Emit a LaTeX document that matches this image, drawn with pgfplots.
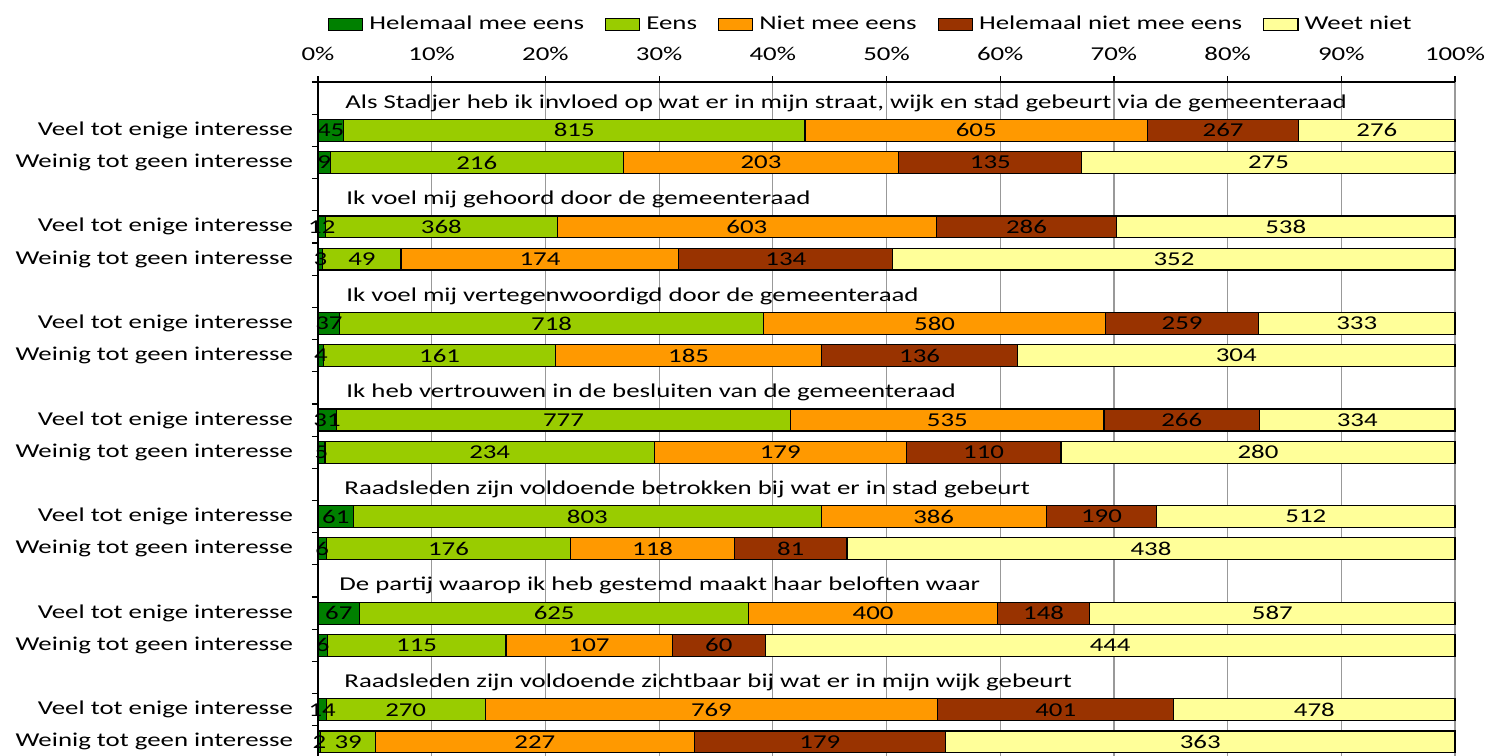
\documentclass[border=0pt]{standalone}
\usepackage{pgfplots}
\pgfplotsset{compat=1.18}
\usepackage{pgfplotstable}
\usepackage{fontspec}
\setmainfont[FakeStretch=1.37]{Carlito}
\definecolor{cHM}{RGB}{0,128,0}
\definecolor{cE}{RGB}{153,204,0}
\definecolor{cN}{RGB}{255,153,0}
\definecolor{cHN}{RGB}{153,51,0}
\definecolor{cW}{RGB}{255,255,153}

\pgfplotstableread{
y h e n hn w
1 45 815 605 267 276
2 9 216 203 135 275
4 12 368 603 286 538
5 3 49 174 134 352
7 37 718 580 259 333
8 4 161 185 136 304
10 31 777 535 266 334
11 5 234 179 110 280
13 61 803 386 190 512
14 6 176 118 81 438
16 67 625 400 148 587
17 6 115 107 60 444
19 14 270 769 401 478
20 2 39 227 179 363
}\data

\def\T{(\thisrow{h}+\thisrow{e}+\thisrow{n}+\thisrow{hn}+\thisrow{w})}

\pgfplotsset{
  segbar/.style={xbar, bar width=0.68, bar shift=0pt, draw=black, line width=0.6pt, fill=#1, area legend},
  seglab/.style={forget plot, draw=none, mark=none, nodes near coords={\pgfplotspointmeta},
     point meta=explicit symbolic, nodes near coords align=center,
     every node near coord/.append style={anchor=center, text=black, inner sep=0pt}},
}

\begin{document}
\fontsize{9.8pt}{12pt}\selectfont
\begin{tikzpicture}
\begin{axis}[
  at={(0,0)}, anchor=north west,
  scale only axis, width=568.5pt, height=338pt,
  xmin=0, xmax=100, ymin=-0.5, ymax=20.5, y dir=reverse,
  axis x line*=top, axis y line*=left,
  tick align=outside, major tick length=3pt,
  xtick={0,10,...,100},
  xticklabels={0\%,10\%,20\%,30\%,40\%,50\%,60\%,70\%,80\%,90\%,100\%},
  xticklabel style={yshift=4pt},
  xmajorgrids, grid style={gray!80, line width=0.6pt},
  ytick={-0.5,0.5,...,20.5},
  yticklabels={,Veel tot enige interesse,Weinig tot geen interesse,,Veel tot enige interesse,Weinig tot geen interesse,,Veel tot enige interesse,Weinig tot geen interesse,,Veel tot enige interesse,Weinig tot geen interesse,,Veel tot enige interesse,Weinig tot geen interesse,,Veel tot enige interesse,Weinig tot geen interesse,,Veel tot enige interesse,Weinig tot geen interesse,},
  yticklabel style={yshift=-8.05pt, xshift=-6pt},
  axis line style={black, line width=0.6pt},
  tick style={black, line width=0.6pt},
  clip=false,
  legend columns=-1,
  reverse legend,
  legend image code/.code={\draw[#1, line width=0.6pt] (0pt,-3.5pt) rectangle (7pt,3.5pt);},
  legend style={draw=none, fill=none, at={(0.488,1.085)}, anchor=center,
    nodes={inner xsep=3pt},
    /tikz/every even column/.append style={column sep=7.5pt}},
]
\addplot[segbar=cW] table[y=y, x expr={100*(\thisrow{h}+\thisrow{e}+\thisrow{n}+\thisrow{hn}+\thisrow{w})/\T}] {\data};
\addlegendentry{Weet niet}
\addplot[segbar=cHN] table[y=y, x expr={100*(\thisrow{h}+\thisrow{e}+\thisrow{n}+\thisrow{hn})/\T}] {\data};
\addlegendentry{Helemaal niet mee eens}
\addplot[segbar=cN] table[y=y, x expr={100*(\thisrow{h}+\thisrow{e}+\thisrow{n})/\T}] {\data};
\addlegendentry{Niet mee eens}
\addplot[segbar=cE] table[y=y, x expr={100*(\thisrow{h}+\thisrow{e})/\T}] {\data};
\addlegendentry{Eens}
\addplot[segbar=cHM] table[y=y, x expr={100*(\thisrow{h})/\T}] {\data};
\addlegendentry{Helemaal mee eens}

\addplot[seglab] table[y=y, x expr={100*(0.5*\thisrow{h})/\T}, meta=h] {\data};
\addplot[seglab] table[y=y, x expr={100*(\thisrow{h}+0.5*\thisrow{e})/\T}, meta=e] {\data};
\addplot[seglab] table[y=y, x expr={100*(\thisrow{h}+\thisrow{e}+0.5*\thisrow{n})/\T}, meta=n] {\data};
\addplot[seglab] table[y=y, x expr={100*(\thisrow{h}+\thisrow{e}+\thisrow{n}+0.5*\thisrow{hn})/\T}, meta=hn] {\data};
\addplot[seglab] table[y=y, x expr={100*(\thisrow{h}+\thisrow{e}+\thisrow{n}+\thisrow{hn}+0.5*\thisrow{w})/\T}, meta=w] {\data};

\begin{scope}[every node/.style={anchor=west, inner sep=0pt}]
\node at (axis cs:2.37,0.15) {Als Stadjer heb ik invloed op wat er in mijn straat, wijk en stad gebeurt via de gemeenteraad};
\node at (axis cs:2.46,3.15) {Ik voel mij gehoord door de gemeenteraad};
\node at (axis cs:2.46,6.15) {Ik voel mij vertegenwoordigd door de gemeenteraad};
\node at (axis cs:2.46,9.15) {Ik heb vertrouwen in de besluiten van de gemeenteraad};
\node at (axis cs:2.29,12.15) {Raadsleden zijn voldoende betrokken bij wat er in stad gebeurt};
\node at (axis cs:1.85,15.15) {De partij waarop ik heb gestemd maakt haar beloften waar};
\node at (axis cs:2.29,18.15) {Raadsleden zijn voldoende zichtbaar bij wat er in mijn wijk gebeurt};
\end{scope}
\end{axis}
\pgfresetboundingbox
\useasboundingbox (-159pt,41pt) rectangle (584pt,-336.5pt);
\end{tikzpicture}
\end{document}
